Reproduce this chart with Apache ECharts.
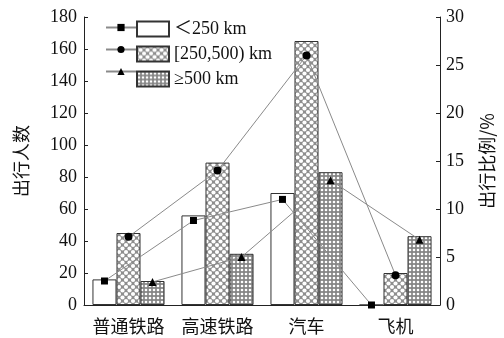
<!DOCTYPE html>
<html>
<head>
<meta charset="utf-8">
<script src="https://cdn.jsdelivr.net/npm/echarts@6/dist/echarts.min.js"></script>
<style>
  html, body { margin: 0; padding: 0; background: #fff; }
  #chart { width: 504px; height: 338px; }
</style>
</head>
<body>
<div id="chart"></div>
<script>
// Travel modes and trip distance groups
const categories = ['普通铁路', '高速铁路', '汽车', '飞机'];
const groupNames = ['＜250 km', '[250,500) km', '≥500 km'];

// Number of travellers per mode (left axis)
const countNear = [16, 56, 70, 0];
const countMid = [45, 89, 165, 20];
const countFar = [15, 32, 83, 43];

// Share of all travellers, % (right axis)
const shareNear = [2.5, 8.8, 11.0, 0];
const shareMid = [7.1, 14.0, 26.0, 3.1];
const shareFar = [2.4, 5.0, 13.0, 6.8];

// Axis ticks
const leftTicks = { max: 180, interval: 20 };
const rightTicks = { max: 30, interval: 5 };

// Each bar takes this share of a category slot; lines run through bar centres
const BAR_SHARE = 0.27;

const NUM_FONT = '"Liberation Serif", "Times New Roman", serif';
const CJK_FONT = '"Noto Sans CJK SC", "Noto Sans", sans-serif';
const MIX_FONT = '"Liberation Serif", "Noto Sans CJK SC", serif';

// Dotted fill tiles for the patterned bars
function dotTile(size, radius, bg, staggered) {
  const c = document.createElement('canvas');
  c.width = size; c.height = size;
  const g = c.getContext('2d');
  g.fillStyle = bg;
  g.fillRect(0, 0, size, size);
  g.fillStyle = '#fff';
  const centres = staggered
    ? [[size / 2, size / 2], [0, 0], [size, 0], [0, size], [size, size]]
    : [[size / 2, size / 2]];
  centres.forEach(([x, y]) => {
    g.beginPath();
    g.arc(x, y, radius, 0, Math.PI * 2);
    g.fill();
  });
  return c;
}
const midFill = { image: dotTile(7, 2.1, '#8e8e8e', true), repeat: 'repeat' };
const farFill = { image: dotTile(4, 1.3, '#868686', false), repeat: 'repeat' };
const fills = ['#ffffff', midFill, farFill];

const counts = [countNear, countMid, countFar];
const shares = [shareNear, shareMid, shareFar];
const symbols = ['rect', 'circle', 'triangle'];
const symbolSizes = [7, 8, 8];
const lineNames = ['比例 ＜250 km', '比例 [250,500) km', '比例 ≥500 km'];

const series = [];
counts.forEach((vals, k) => {
  series.push({
    name: groupNames[k],
    type: 'bar',
    xAxisIndex: 0,
    yAxisIndex: 0,
    data: vals,
    barWidth: (BAR_SHARE * 100) + '%',
    barGap: '0%',
    itemStyle: { color: fills[k], borderColor: '#333', borderWidth: 1 },
    emphasis: { disabled: true },
    z: 2
  });
});
shares.forEach((vals, k) => {
  const offset = (k - 1) * BAR_SHARE;
  series.push({
    name: lineNames[k],
    type: 'line',
    xAxisIndex: 1,
    yAxisIndex: 1,
    data: vals.map((v, i) => [i + offset, v]),
    symbol: symbols[k],
    symbolSize: symbolSizes[k],
    showAllSymbol: true,
    itemStyle: { color: '#000' },
    lineStyle: { color: '#8a8a8a', width: 1 },
    emphasis: { disabled: true },
    z: 5
  });
});

const chart = echarts.init(document.getElementById('chart'), null, { renderer: 'canvas' });
chart.setOption({
  animation: false,
  backgroundColor: '#fff',
  grid: { left: 84, right: 62, top: 17, bottom: 33 },
  legend: [
    {
      // line-and-marker keys, no text
      data: lineNames,
      orient: 'vertical',
      left: 100,
      top: 18,
      itemWidth: 30,
      itemHeight: 9,
      itemGap: 13,
      formatter: () => ' ',
      textStyle: { fontSize: 9, lineHeight: 9 },
      selectedMode: false
    },
    {
      data: groupNames,
      orient: 'vertical',
      left: 131,
      top: 15,
      itemWidth: 32,
      itemHeight: 15,
      itemGap: 7,
      icon: 'rect',
      selectedMode: false,
      textStyle: { fontFamily: MIX_FONT, fontSize: 18, color: '#111', lineHeight: 15 }
    }
  ],
  xAxis: [
    {
      type: 'category',
      data: categories,
      axisLine: { onZero: false, lineStyle: { color: '#222', width: 1 } },
      axisTick: { show: false },
      axisLabel: { interval: 0, fontFamily: CJK_FONT, fontSize: 18, color: '#111', margin: 12 }
    },
    {
      type: 'value',
      min: -0.5,
      max: 3.5,
      show: false
    }
  ],
  yAxis: [
    {
      type: 'value',
      min: 0,
      max: leftTicks.max,
      interval: leftTicks.interval,
      name: '出行人数',
      nameLocation: 'middle',
      nameGap: 54,
      nameTextStyle: { fontFamily: CJK_FONT, fontSize: 18, color: '#111' },
      axisLine: { show: true, onZero: false, lineStyle: { color: '#222', width: 1 } },
      axisTick: { show: true, inside: true, length: 4, lineStyle: { color: '#222' } },
      splitLine: { show: false },
      axisLabel: { fontFamily: NUM_FONT, fontSize: 18, color: '#111', margin: 7 }
    },
    {
      type: 'value',
      position: 'right',
      min: 0,
      max: rightTicks.max,
      interval: rightTicks.interval,
      name: '出行比例/%',
      nameLocation: 'middle',
      nameRotate: 90,
      nameGap: 38,
      nameTextStyle: { fontFamily: CJK_FONT, fontSize: 18, color: '#111' },
      axisLine: { show: true, onZero: false, lineStyle: { color: '#222', width: 1 } },
      axisTick: { show: true, inside: true, length: 4, lineStyle: { color: '#222' } },
      splitLine: { show: false },
      axisLabel: { fontFamily: NUM_FONT, fontSize: 18, color: '#111', margin: 6 }
    }
  ],
  series: series
});
</script>
</body>
</html>
